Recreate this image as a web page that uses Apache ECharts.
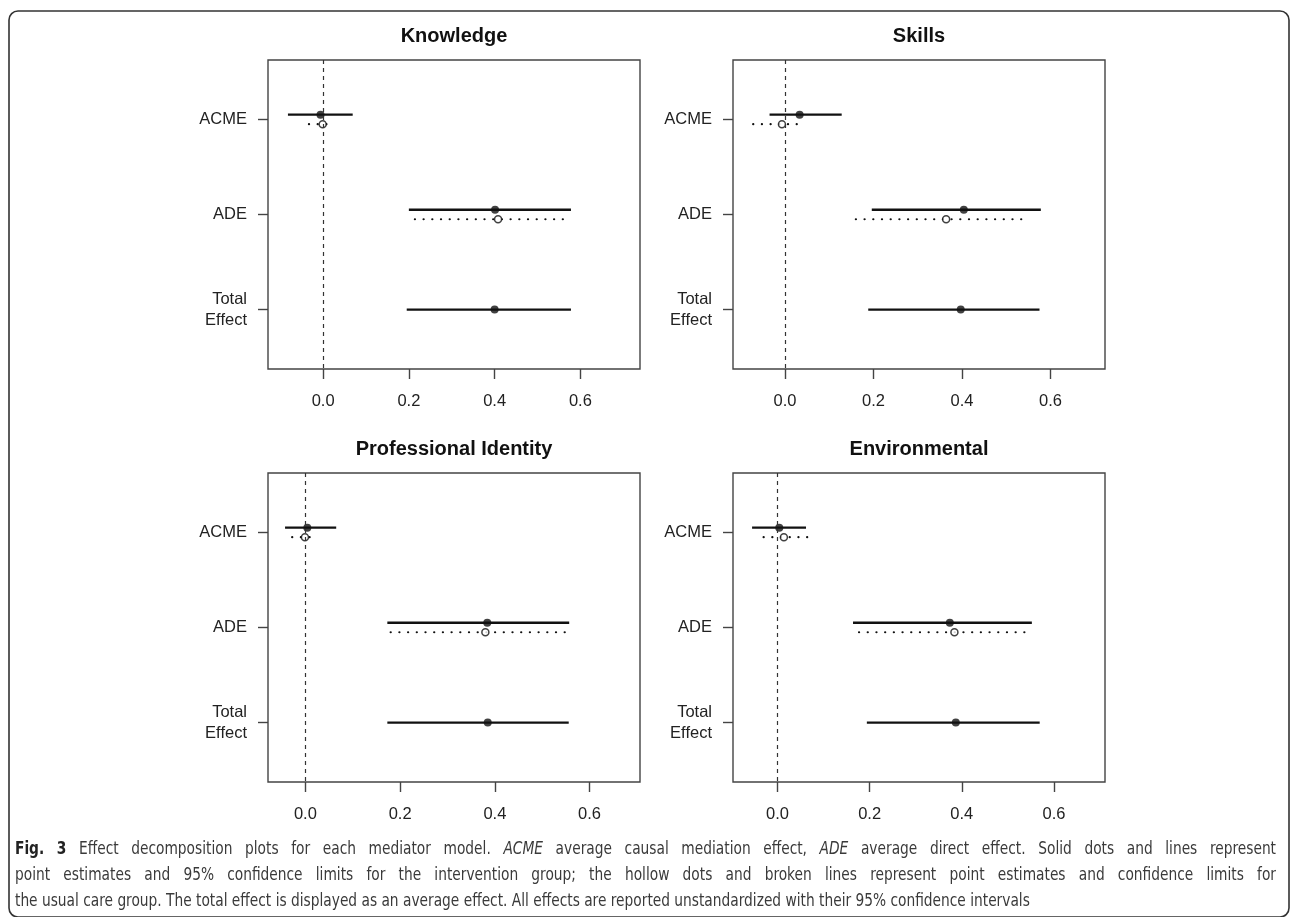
<!DOCTYPE html>
<html>
<head>
<meta charset="utf-8">
<script src="https://cdn.jsdelivr.net/npm/echarts@6/dist/echarts.min.js"></script>
<style>
  html, body { margin: 0; padding: 0; background: #fff; }
  #chart { width: 1290px; height: 917px; }
</style>
</head>
<body>
<div id="chart"></div>
<script>
// Mediator models, one panel each
const panelNames = ['Knowledge', 'Skills', 'Professional Identity', 'Environmental'];
// Effect rows (top to bottom)
const effectLabels = ['ACME', 'ADE', 'Total\nEffect'];
// x-axis tick values
const xTicks = [0, 0.2, 0.4, 0.6];

// Intervention group: point estimates and 95% limits for [ACME, ADE, Total Effect]
const intEst = [
  [-0.006, 0.401, 0.400],
  [0.033, 0.404, 0.397],
  [0.004, 0.384, 0.385],
  [0.004, 0.374, 0.387]
];
const intLo = [
  [-0.082, 0.200, 0.195],
  [-0.035, 0.196, 0.188],
  [-0.043, 0.173, 0.173],
  [-0.055, 0.164, 0.194]
];
const intHi = [
  [0.069, 0.578, 0.578],
  [0.128, 0.578, 0.575],
  [0.065, 0.557, 0.556],
  [0.062, 0.552, 0.569]
];

// Usual care group: point estimates and limits for [ACME, ADE]
const ucEst = [
  [-0.001, 0.408],
  [-0.007, 0.364],
  [-0.001, 0.380],
  [0.014, 0.384]
];
const ucLo = [
  [-0.033, 0.214],
  [-0.072, 0.160],
  [-0.028, 0.180],
  [-0.030, 0.177]
];
const ucHi = [
  [0.026, 0.577],
  [0.041, 0.548],
  [0.025, 0.561],
  [0.080, 0.549]
];

// Horizontal extent of each panel's x-axis
const xRange = [
  [-0.1285, 0.739],
  [-0.1176, 0.723],
  [-0.079, 0.7065],
  [-0.0964, 0.7107]
];

// Figure caption, line by line; 'b' bold, 'i' italic, 'n' normal
const captionLines = [
  [['Fig. 3', 'b'], ['Effect decomposition plots for each mediator model.', 'n'], ['ACME', 'i'],
   ['average causal mediation effect,', 'n'], ['ADE', 'i'], ['average direct effect. Solid dots and lines represent', 'n']],
  [['point estimates and 95% confidence limits for the intervention group; the hollow dots and broken lines represent point estimates and confidence limits for', 'n']],
  [['the usual care group. The total effect is displayed as an average effect. All effects are reported unstandardized with their 95% confidence intervals', 'n']]
];

// Panel layout in pixels
const gridBoxes = [
  { left: 268, top: 60, width: 372, height: 309 },
  { left: 733, top: 60, width: 372, height: 309 },
  { left: 268, top: 473, width: 372, height: 309 },
  { left: 733, top: 473, width: 372, height: 309 }
];

const OFFSET = 0.05;   // vertical separation between the two groups' intervals
const INK = '#111';
const FRAME = '#444';
const labelFont = "'Liberation Sans', Arial, Helvetica, sans-serif";

function intervalRenderer(dash) {
  return function (params, api) {
    const p1 = api.coord([api.value(0), api.value(2)]);
    const p2 = api.coord([api.value(1), api.value(2)]);
    return {
      type: 'line',
      shape: { x1: p1[0], y1: p1[1], x2: p2[0], y2: p2[1] },
      style: { stroke: INK, lineWidth: dash ? 2.2 : 2.4, lineDash: dash || null, lineCap: dash ? 'round' : 'butt' }
    };
  };
}

const grids = [], xAxes = [], yAxes = [], titles = [], series = [];

panelNames.forEach((name, i) => {
  const g = gridBoxes[i];
  grids.push({
    left: g.left, top: g.top, width: g.width, height: g.height,
    show: true, borderColor: FRAME, borderWidth: 1.4, backgroundColor: 'transparent'
  });
  titles.push({
    text: name,
    left: g.left + g.width / 2,
    top: g.top - 34,
    textAlign: 'center',
    padding: 0,
    textStyle: { fontFamily: labelFont, fontWeight: 'bold', fontSize: 20, color: '#111' }
  });
  xAxes.push({
    gridIndex: i, type: 'value',
    min: xRange[i][0], max: xRange[i][1],
    axisLine: { show: false, onZero: false },
    splitLine: { show: false },
    axisTick: { show: true, length: 10, customValues: xTicks, lineStyle: { color: FRAME, width: 1.4 } },
    axisLabel: {
      show: true, customValues: xTicks, margin: 24,
      formatter: v => v.toFixed(1),
      fontFamily: labelFont, fontSize: 16.5, color: '#222'
    }
  });
  yAxes.push({
    gridIndex: i, type: 'value', inverse: true,
    min: 0.375, max: 3.625,
    position: 'left',
    axisLine: { show: false, onZero: false },
    splitLine: { show: false },
    axisTick: { show: true, length: 10, customValues: [1, 2, 3], lineStyle: { color: FRAME, width: 1.4 } },
    axisLabel: {
      show: true, customValues: [1, 2, 3], margin: 21,
      formatter: v => effectLabels[Math.round(v) - 1],
      fontFamily: labelFont, fontSize: 16.5, color: '#222', lineHeight: 21, align: 'right'
    }
  });

  // Intervention intervals: ACME and ADE sit just above the row, Total Effect on it
  const intLines = intEst[i].map((_, r) => [intLo[i][r], intHi[i][r], r < 2 ? r + 1 - OFFSET : r + 1]);
  const intPoints = intEst[i].map((v, r) => [v, r < 2 ? r + 1 - OFFSET : r + 1]);
  const ucLines = ucEst[i].map((_, r) => [ucLo[i][r], ucHi[i][r], r + 1 + OFFSET]);
  const ucPoints = ucEst[i].map((v, r) => [v, r + 1 + OFFSET]);

  series.push({
    type: 'custom', xAxisIndex: i, yAxisIndex: i, silent: true, z: 2,
    renderItem: intervalRenderer(null),
    data: intLines,
    markLine: {
      silent: true, symbol: 'none', label: { show: false },
      lineStyle: { type: [4, 4], color: '#333', width: 1.2 },
      data: [{ xAxis: 0 }]
    }
  });
  series.push({
    type: 'custom', xAxisIndex: i, yAxisIndex: i, silent: true, z: 2,
    renderItem: intervalRenderer([0.1, 8.6]),
    data: ucLines
  });
  series.push({
    type: 'scatter', xAxisIndex: i, yAxisIndex: i, silent: true, z: 4,
    symbol: 'circle', symbolSize: 8,
    itemStyle: { color: INK },
    data: intPoints
  });
  series.push({
    type: 'scatter', xAxisIndex: i, yAxisIndex: i, silent: true, z: 4,
    symbol: 'circle', symbolSize: 7,
    itemStyle: { color: '#fff', borderColor: INK, borderWidth: 1.5 },
    data: ucPoints
  });
});

// Caption: justified text block (the last line is set ragged).
// A condensed face is imitated by drawing a larger size squeezed horizontally.
const captionFont = "'Liberation Sans Narrow', 'DejaVu Sans Condensed', 'Liberation Sans', sans-serif";
const CAPTION_SIZE = 17;
const CAPTION_SQUEEZE = 0.9;
const CAPTION_LEFT = 15, CAPTION_RIGHT = 1276;
const captionY = [849.5, 875.5, 901.5];

const measureCtx = document.createElement('canvas').getContext('2d');
function captionFontStr(kind) {
  return (kind === 'i' ? 'italic ' : 'normal ') + (kind === 'b' ? 'bold ' : 'normal ') +
    CAPTION_SIZE + 'px ' + captionFont;
}

const graphics = [
  {
    type: 'rect', silent: true, z: -1,
    shape: { x: 9, y: 11, width: 1280, height: 906, r: 9 },
    style: { fill: 'none', stroke: '#333', lineWidth: 1.6 }
  }
];

captionLines.forEach((segments, k) => {
  const words = [];
  segments.forEach(([text, kind]) => {
    text.split(' ').forEach(w => words.push({ w, kind }));
  });
  words.forEach(o => {
    measureCtx.font = captionFontStr(o.kind);
    o.width = measureCtx.measureText(o.w).width * CAPTION_SQUEEZE;
  });
  measureCtx.font = captionFontStr('n');
  const space = measureCtx.measureText(' ').width * CAPTION_SQUEEZE;
  const total = words.reduce((s, o) => s + o.width, 0);
  const justify = k < captionLines.length - 1;
  const gap = justify ? (CAPTION_RIGHT - CAPTION_LEFT - total) / (words.length - 1) : space;
  let x = CAPTION_LEFT;
  words.forEach(o => {
    graphics.push({
      type: 'text', silent: true,
      x: x, y: captionY[k],
      scaleX: CAPTION_SQUEEZE,
      style: {
        text: o.w,
        fontFamily: captionFont,
        fontSize: CAPTION_SIZE,
        fontStyle: o.kind === 'i' ? 'italic' : 'normal',
        fontWeight: o.kind === 'b' ? 'bold' : 'normal',
        fill: o.kind === 'b' ? '#222' : '#3a3a3a',
        verticalAlign: 'middle'
      }
    });
    x += o.width + gap;
  });
});

const chart = echarts.init(document.getElementById('chart'), null, { renderer: 'canvas' });
chart.setOption({
  animation: false,
  backgroundColor: '#fff',
  title: titles,
  grid: grids,
  xAxis: xAxes,
  yAxis: yAxes,
  series: series,
  graphic: graphics
});
</script>
</body>
</html>
